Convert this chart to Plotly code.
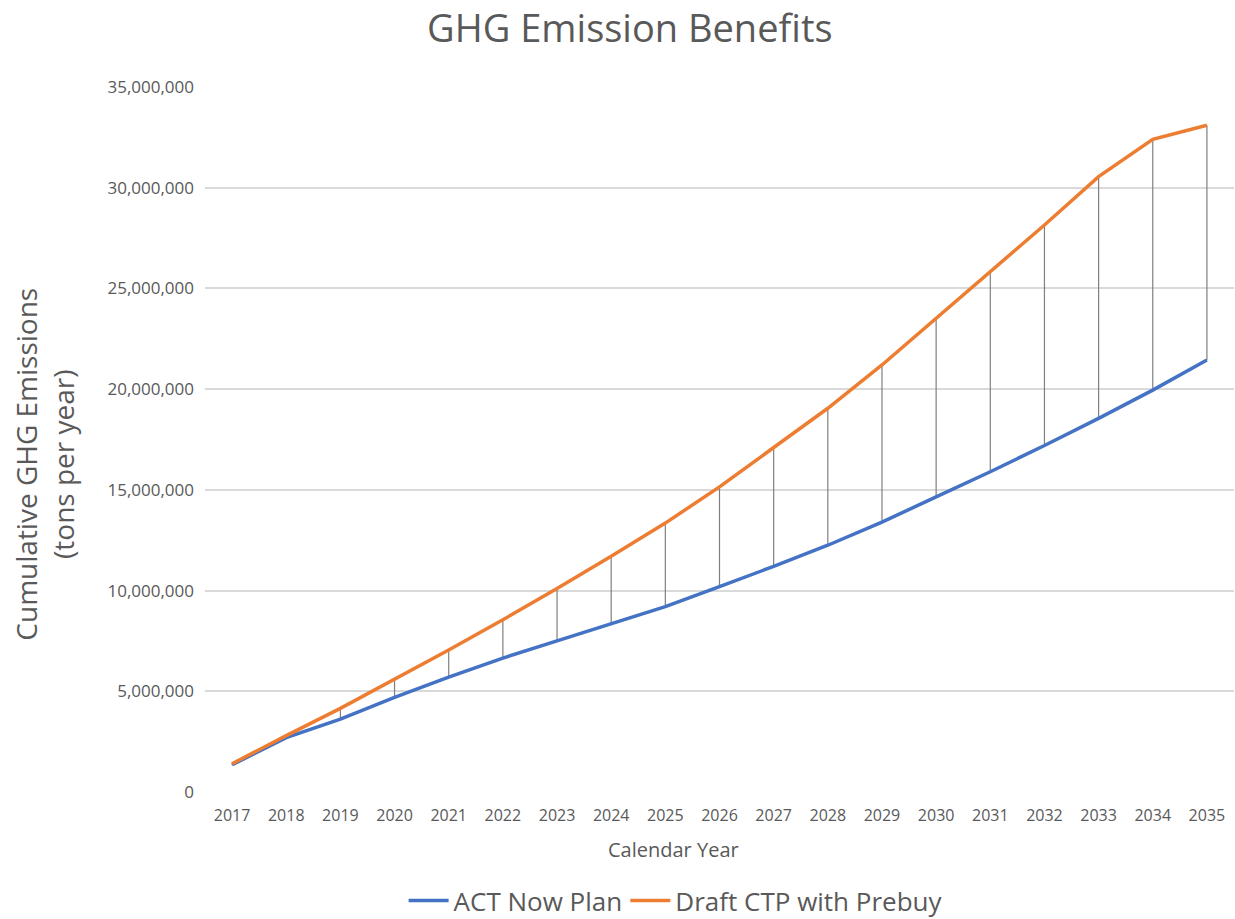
import plotly.graph_objects as go

# 資料
years = [str(y) for y in range(2017, 2036)]
act_now = [1.35e6, 2.7e6, 3.62e6, 4.7e6, 5.7e6, 6.65e6, 7.5e6, 8.35e6, 9.2e6, 10.2e6,
           11.2e6, 12.25e6, 13.4e6, 14.65e6, 15.9e6, 17.2e6, 18.55e6, 19.95e6, 21.45e6]
draft_ctp = [1.4e6, 2.8e6, 4.15e6, 5.6e6, 7.05e6, 8.55e6, 10.1e6, 11.7e6, 13.35e6, 15.15e6,
             17.1e6, 19.05e6, 21.2e6, 23.5e6, 25.8e6, 28.15e6, 30.55e6, 32.4e6, 33.1e6]
y_ticks = [0, 5e6, 10e6, 15e6, 20e6, 25e6, 30e6, 35e6]

FONT = 'Open Sans'
GREY = '#595959'

fig = go.Figure()

# 垂直連接線（drop lines）
drop_x, drop_y = [], []
for yr, lo, hi in zip(years, act_now, draft_ctp):
    drop_x += [yr, yr, None]
    drop_y += [lo, hi, None]

fig.add_trace(go.Scatter(
    x=drop_x, y=drop_y, mode='lines',
    line=dict(color='#7F7F7F', width=1.2),
    showlegend=False, hoverinfo='skip',
))

fig.add_trace(go.Scatter(
    x=years, y=act_now, mode='lines', name='ACT Now Plan',
    line=dict(color='#4472C4', width=3.5), legend='legend',
))
fig.add_trace(go.Scatter(
    x=years, y=draft_ctp, mode='lines', name='Draft CTP with Prebuy',
    line=dict(color='#ED7D31', width=3.5), legend='legend2',
))

# 軸標題
fig.add_annotation(
    text='Calendar Year', xref='paper', yref='paper',
    x=0.455, y=-0.082, yanchor='middle', showarrow=False,
    font=dict(family=FONT, size=20, color=GREY),
)
fig.add_annotation(
    text='Cumulative GHG Emissions<br>(tons per year)', xref='paper', yref='paper',
    x=-0.156, y=0.465, xanchor='center', yanchor='middle', textangle=-90,
    showarrow=False, font=dict(family=FONT, size=28, color=GREY),
)

legend_style = dict(orientation='h', xanchor='left', y=0.02, yref='container',
                    yanchor='middle', font=dict(family=FONT, size=26, color=GREY),
                    itemwidth=40, bgcolor='rgba(0,0,0,0)')

fig.update_layout(
    width=1235, height=919,
    title=dict(text='GHG Emission Benefits', x=0.51, xref='container', xanchor='center',
               y=0.969, yref='container', yanchor='middle',
               font=dict(family=FONT, size=38, color=GREY)),
    margin=dict(l=205, r=1, t=87, b=127),
    plot_bgcolor='white', paper_bgcolor='white',
    font=dict(family=FONT, color=GREY),
    legend=dict(x=0.193, **legend_style),
    legend2=dict(x=0.4085, **legend_style),
    showlegend=True,
)

fig.update_xaxes(
    type='category', range=[-0.5, len(years) - 0.5],
    showgrid=False, showline=False, ticks='',
    ticklabelstandoff=12,
    tickfont=dict(family=FONT, size=16, color=GREY),
)
fig.update_yaxes(
    range=[0, 35e6], tickvals=y_ticks, tickformat=',', gridcolor='#D9D9D9',
    gridwidth=1.5, zeroline=False, showline=False, ticks='',
    ticklabelstandoff=10,
    tickfont=dict(family=FONT, size=17, color=GREY),
)

fig.write_html('out.html', config={'displayModeBar': False},
               post_script="document.body.style.margin='0';")
